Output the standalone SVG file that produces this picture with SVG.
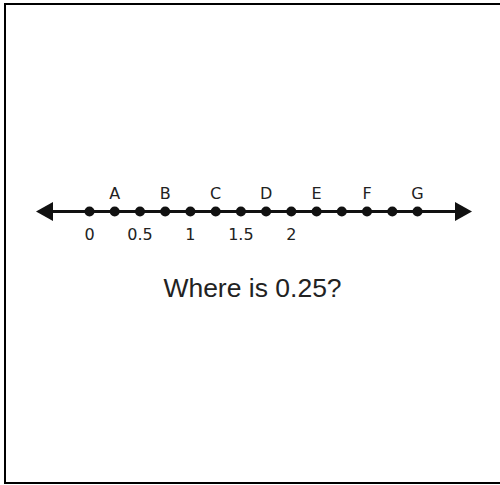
<svg xmlns="http://www.w3.org/2000/svg" width="500" height="485" viewBox="0 0 500 485">
<style>
.lbl{font-family:"DejaVu Sans",sans-serif;font-size:16px;fill:#222;text-anchor:middle}
.dot{fill:#111}
.q{font-family:"Liberation Sans",Arial,sans-serif;font-size:26.5px;fill:#222;text-anchor:middle}
</style>
<rect width="500" height="485" fill="#fff"/>
<rect x="5" y="4" width="520" height="479" fill="none" stroke="#000" stroke-width="2"/>
<g id="connectors">
<line x1="48" y1="211.5" x2="460" y2="211.5" stroke="#111" stroke-width="3"/>
<polygon points="36,211.5 53,202 53,221" fill="#111"/>
<polygon points="472,211.5 455,202 455,221" fill="#111"/>
</g>
<g id="dots">
<circle class="dot" cx="89.5" cy="211.5" r="5"/>
<circle class="dot" cx="114.7" cy="211.5" r="5"/>
<circle class="dot" cx="140" cy="211.5" r="5"/>
<circle class="dot" cx="165.2" cy="211.5" r="5"/>
<circle class="dot" cx="190.4" cy="211.5" r="5"/>
<circle class="dot" cx="215.7" cy="211.5" r="5"/>
<circle class="dot" cx="240.9" cy="211.5" r="5"/>
<circle class="dot" cx="266.1" cy="211.5" r="5"/>
<circle class="dot" cx="291.3" cy="211.5" r="5"/>
<circle class="dot" cx="316.6" cy="211.5" r="5"/>
<circle class="dot" cx="341.8" cy="211.5" r="5"/>
<circle class="dot" cx="367" cy="211.5" r="5"/>
<circle class="dot" cx="392.3" cy="211.5" r="5"/>
<circle class="dot" cx="417.5" cy="211.5" r="5"/>
</g>
<g id="letters">
<text class="lbl" x="114.7" y="198.5">A</text>
<text class="lbl" x="165.2" y="198.5">B</text>
<text class="lbl" x="215.7" y="198.5">C</text>
<text class="lbl" x="266.1" y="198.5">D</text>
<text class="lbl" x="316.6" y="198.5">E</text>
<text class="lbl" x="367" y="198.5">F</text>
<text class="lbl" x="417.5" y="198.5">G</text>
</g>
<g id="numbers">
<text class="lbl" x="89.5" y="240">0</text>
<text class="lbl" x="140" y="240">0.5</text>
<text class="lbl" x="190.4" y="240">1</text>
<text class="lbl" x="240.9" y="240">1.5</text>
<text class="lbl" x="291.3" y="240">2</text>
</g>
<g id="question">
<text class="q" x="252.5" y="297">Where is 0.25?</text>
</g>
</svg>
